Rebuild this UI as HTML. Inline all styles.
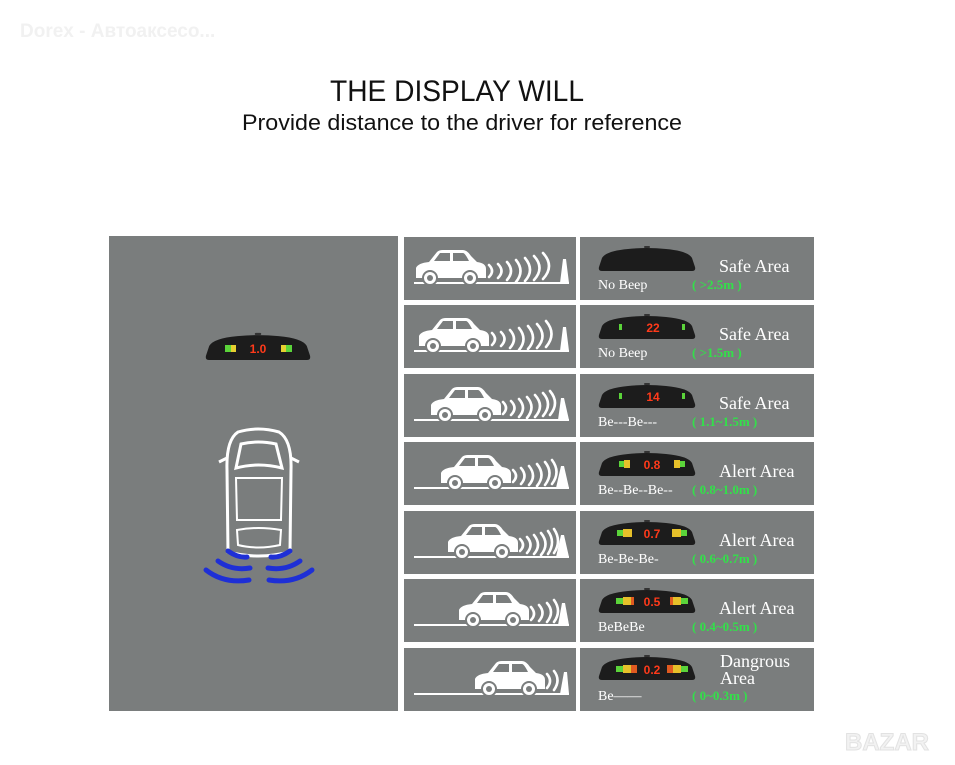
<!DOCTYPE html>
<html><head><meta charset="utf-8"><style>
html,body{margin:0;padding:0;background:#fff;width:955px;height:765px;overflow:hidden}
svg{display:block}
.s{font-family:"Liberation Serif",serif;fill:#fff}
.g{font-family:"Liberation Serif",serif;fill:#33e04a;font-weight:bold;font-size:13px}
.w{fill:none;stroke:#fff;stroke-width:2.6;stroke-linecap:round}
.n{font-family:"Liberation Sans",sans-serif;fill:#ff3a1a;font-weight:bold;font-size:12px}
</style></head><body>
<svg width="955" height="765" viewBox="0 0 955 765" xmlns="http://www.w3.org/2000/svg">
<defs>
<symbol id="car" viewBox="0 0 72 36" overflow="visible">
<path d="M1,30 L1,20 Q3,15 14,14 L22,4 Q24,2 28,2 L48,2 Q52,2 56,8 L62,14 Q71,15 71,21 L71,30 Z" fill="#fff"/>
<path d="M25,5 L35,5 L35,13 L19,13 Z M38,5 L48,5 Q50,5 54,13 L38,13 Z" fill="#7a7d7d"/>
<circle cx="15" cy="30" r="7" fill="#fff" stroke="#7a7d7d" stroke-width="2"/>
<circle cx="15" cy="30" r="3" fill="#7a7d7d"/>
<circle cx="55" cy="30" r="7" fill="#fff" stroke="#7a7d7d" stroke-width="2"/>
<circle cx="55" cy="30" r="3" fill="#7a7d7d"/>
</symbol>
<symbol id="disp" viewBox="0 0 98 24" overflow="visible">
<path d="M4,24 Q0,24 1,20 L4,11 Q8,4 30,2 Q49,0 68,2 Q90,4 94,11 L97,20 Q98,24 94,24 Z" fill="#1c1c1c"/>
<rect x="46" y="-1" width="6" height="2" rx="1" fill="#333"/>
</symbol>
</defs>
<text x="20" y="37" font-family="Liberation Sans,sans-serif" font-weight="bold" font-size="19" fill="#f1f1f1">Dorex - Автоаксесо...</text>
<text x="457" y="101" text-anchor="middle" font-family="Liberation Sans,sans-serif" font-size="30" textLength="254" lengthAdjust="spacingAndGlyphs" fill="#111">THE DISPLAY WILL</text>
<text x="462" y="130" text-anchor="middle" font-family="Liberation Sans,sans-serif" font-size="22" textLength="440" lengthAdjust="spacingAndGlyphs" fill="#111">Provide distance to the driver for reference</text>

<rect x="109" y="236" width="289" height="475" fill="#7a7d7d"/>
<use href="#disp" x="203" y="334" width="110" height="26"/>
<rect x="225" y="345" width="6" height="7" fill="#5bd43a"/><rect x="231" y="345" width="5" height="7" fill="#e6d030"/>
<rect x="281" y="345" width="5" height="7" fill="#e6d030"/><rect x="286" y="345" width="6" height="7" fill="#5bd43a"/>
<text x="258" y="353" class="n" text-anchor="middle">1.0</text>
<g fill="none" stroke="#fff" stroke-width="3">
<path d="M238,432 Q258,426 279,432 Q292,440 291,470 L290,552 Q258,560 228,552 L227,470 Q226,440 238,432 Z"/>
<path d="M236,468 L241,444 Q258,440 276,444 L282,468 Q258,462 236,468 Z"/>
<path d="M236,478 L282,478 L281,520 L237,520 Z" stroke-width="2"/>
<path d="M237,530 Q258,526 281,530 L280,545 Q258,550 238,545 Z" stroke-width="2"/>
<path d="M227,458 L219,462 M291,458 L299,462"/>
</g>
<g fill="none" stroke="#1e2fd6" stroke-width="5" stroke-linecap="round">
<path d="M228,551 Q238,558 247,557"/><path d="M218,561 Q232,571 250,568"/><path d="M206,570 Q224,584 249,580"/>
<path d="M290,551 Q280,558 271,557"/><path d="M300,561 Q286,571 268,568"/><path d="M312,570 Q294,584 269,580"/>
</g>

<g fill="#7a7d7d">
<rect x="404" y="237" width="172" height="63"/><rect x="580" y="237" width="234" height="63"/>
<rect x="404" y="305" width="172" height="63"/><rect x="580" y="305" width="234" height="63"/>
<rect x="404" y="374" width="172" height="63"/><rect x="580" y="374" width="234" height="63"/>
<rect x="404" y="442" width="172" height="63"/><rect x="580" y="442" width="234" height="63"/>
<rect x="404" y="511" width="172" height="63"/><rect x="580" y="511" width="234" height="63"/>
<rect x="404" y="579" width="172" height="63"/><rect x="580" y="579" width="234" height="63"/>
<rect x="404" y="648" width="172" height="63"/><rect x="580" y="648" width="234" height="63"/>
</g>
<g fill="#fff">
<rect x="414" y="282" width="155" height="2"/><rect x="414" y="350" width="155" height="2"/>
<rect x="414" y="419" width="155" height="2"/><rect x="414" y="487" width="155" height="2"/>
<rect x="414" y="556" width="155" height="2"/><rect x="414" y="624" width="155" height="2"/>
<rect x="414" y="693" width="155" height="2"/>
<path d="M560,283 L563,259 L566,259 L569,283Z"/><path d="M560,351 L563,327 L566,327 L569,351Z"/>
<path d="M558,420 L561,398 L564,398 L569,420Z"/><path d="M556,488 L561,466 L564,466 L569,488Z"/>
<path d="M556,557 L561,535 L564,535 L569,557Z"/><path d="M558,625 L562,603 L565,603 L569,625Z"/>
<path d="M560,694 L564,672 L567,672 L569,694Z"/>
</g>
<use href="#car" x="415" y="248" width="72" height="36"/>
<use href="#car" x="418" y="316" width="72" height="36"/>
<use href="#car" x="430" y="385" width="72" height="36"/>
<use href="#car" x="440" y="453" width="72" height="36"/>
<use href="#car" x="447" y="522" width="72" height="36"/>
<use href="#car" x="458" y="590" width="72" height="36"/>
<use href="#car" x="474" y="659" width="72" height="36"/>
<g class="w">
<path d="M489,265 Q495,271 489,277 M498,264 Q505,271 498,278 M507,262 Q515,271 507,280 M516,260 Q525,271 516,282 M525,258 Q535,270 525,281 M534,256 Q545,268 534,280 M543,253 Q555,266 543,279"/>
<path d="M492,333 Q498,339 492,345 M501,332 Q508,339 501,346 M510,330 Q518,339 510,348 M519,328 Q528,339 519,350 M528,326 Q538,338 528,349 M537,324 Q548,336 537,348 M546,321 Q557,334 546,347"/>
<path d="M503,402 Q509,408 503,414 M511,401 Q518,408 511,415 M519,399 Q527,408 519,417 M527,397 Q536,407 527,418 M535,395 Q545,406 535,417 M543,393 Q553,404 543,416 M550,391 Q560,403 550,415"/>
<path d="M513,470 Q519,476 513,482 M521,468 Q528,476 521,484 M529,466 Q537,476 529,485 M537,464 Q546,475 537,486 M545,462 Q554,473 545,485 M552,460 Q561,472 552,484"/>
<path d="M520,539 Q526,545 520,551 M527,537 Q534,545 527,553 M534,535 Q542,545 534,554 M541,533 Q550,544 541,555 M548,531 Q556,542 548,554 M554,529 Q562,541 554,553"/>
<path d="M531,607 Q537,614 531,620 M539,605 Q546,613 539,621 M547,603 Q555,612 547,622 M554,600 Q562,611 554,622"/>
<path d="M547,674 Q553,681 547,688 M554,671 Q561,680 554,690"/>
</g>

<use href="#disp" x="598" y="247" width="98" height="24"/>
<use href="#disp" x="598" y="315" width="98" height="24"/>
<use href="#disp" x="598" y="384" width="98" height="24"/>
<use href="#disp" x="598" y="452" width="98" height="24"/>
<use href="#disp" x="598" y="521" width="98" height="24"/>
<use href="#disp" x="598" y="589" width="98" height="24"/>
<use href="#disp" x="598" y="656" width="98" height="24"/>
<g fill="#5bd43a">
<rect x="619" y="324" width="3" height="6"/><rect x="682" y="324" width="3" height="6"/>
<rect x="619" y="393" width="3" height="6"/><rect x="682" y="393" width="3" height="6"/>
</g>
<g>
<rect x="619" y="461" width="5" height="6" fill="#5bd43a"/><rect x="624" y="460" width="6" height="8" fill="#e6c02a"/>
<rect x="674" y="460" width="6" height="8" fill="#e6c02a"/><rect x="680" y="461" width="5" height="6" fill="#5bd43a"/>
<rect x="617" y="530" width="6" height="6" fill="#5bd43a"/><rect x="623" y="529" width="9" height="8" fill="#e6c02a"/>
<rect x="672" y="529" width="9" height="8" fill="#e6c02a"/><rect x="681" y="530" width="6" height="6" fill="#5bd43a"/>
<rect x="616" y="598" width="7" height="6" fill="#5bd43a"/><rect x="623" y="597" width="8" height="8" fill="#e6c02a"/><rect x="631" y="597" width="3" height="8" fill="#e05a20"/>
<rect x="670" y="597" width="3" height="8" fill="#e05a20"/><rect x="673" y="597" width="8" height="8" fill="#e6c02a"/><rect x="681" y="598" width="7" height="6" fill="#5bd43a"/>
<rect x="616" y="666" width="7" height="6" fill="#5bd43a"/><rect x="623" y="665" width="8" height="8" fill="#e6c02a"/><rect x="631" y="665" width="6" height="8" fill="#e05a20"/>
<rect x="667" y="665" width="6" height="8" fill="#e05a20"/><rect x="673" y="665" width="8" height="8" fill="#e6c02a"/><rect x="681" y="666" width="7" height="6" fill="#5bd43a"/>
</g>
<text x="653" y="332" class="n" text-anchor="middle">22</text>
<text x="653" y="401" class="n" text-anchor="middle">14</text>
<text x="652" y="469" class="n" text-anchor="middle">0.8</text>
<text x="652" y="538" class="n" text-anchor="middle">0.7</text>
<text x="652" y="606" class="n" text-anchor="middle">0.5</text>
<text x="652" y="674" class="n" text-anchor="middle">0.2</text>

<g class="s" font-size="18">
<text x="719" y="272">Safe Area</text>
<text x="719" y="340">Safe Area</text>
<text x="719" y="409">Safe Area</text>
<text x="719" y="477">Alert Area</text>
<text x="719" y="546">Alert Area</text>
<text x="719" y="614">Alert Area</text>
<text x="720" y="667">Dangrous</text>
<text x="720" y="684">Area</text>
</g>
<g class="s" font-size="14">
<text x="598" y="289">No Beep</text>
<text x="598" y="357">No Beep</text>
<text x="598" y="426">Be---Be---</text>
<text x="598" y="494">Be--Be--Be--</text>
<text x="598" y="563">Be-Be-Be-</text>
<text x="598" y="631">BeBeBe</text>
<text x="598" y="700">Be——</text>
</g>
<g class="g">
<text x="692" y="289">( &gt;2.5m )</text>
<text x="692" y="357">( &gt;1.5m )</text>
<text x="692" y="426">( 1.1~1.5m )</text>
<text x="692" y="494">( 0.8~1.0m )</text>
<text x="692" y="563">( 0.6~0.7m )</text>
<text x="692" y="631">( 0.4~0.5m )</text>
<text x="692" y="700">( 0~0.3m )</text>
</g>
<text x="845" y="750" font-family="Liberation Sans,sans-serif" font-weight="bold" font-size="24" fill="#f2f2f2" stroke="#e2e2e2" stroke-width="1">BAZAR</text>
</svg>
</body></html>
